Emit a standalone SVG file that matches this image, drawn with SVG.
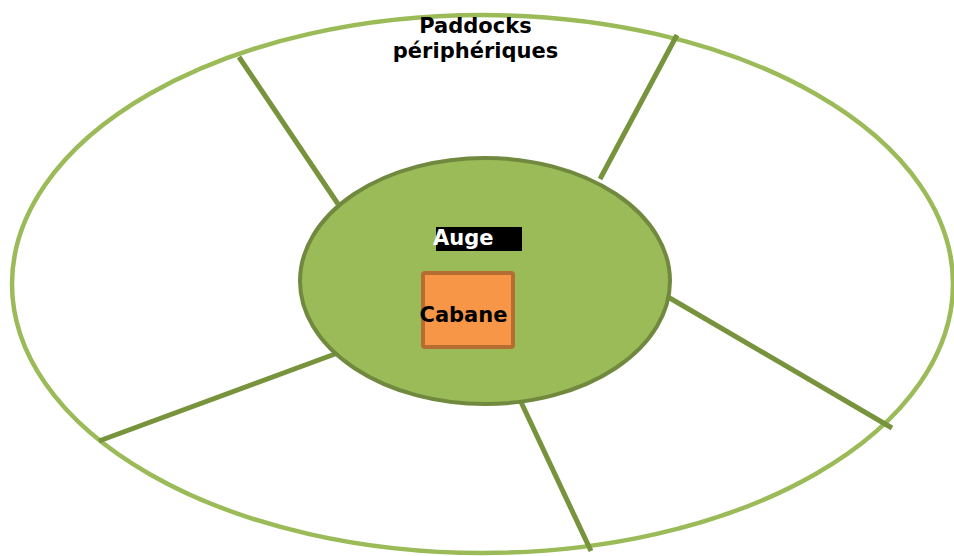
<svg xmlns="http://www.w3.org/2000/svg" width="954" height="556" viewBox="0 0 954 556">
<style>
.div{stroke:#77933C;stroke-width:5;fill:none}
.t{font-family:"DejaVu Sans",Verdana,sans-serif;font-weight:bold;font-size:21px}
</style>
<rect width="954" height="556" fill="#FFFFFF"/>
<g id="paddocks">
<ellipse cx="482.5" cy="284" rx="470.5" ry="269" fill="#FFFFFF" stroke="#9BBB59" stroke-width="4.5"/>
<text class="t" x="475.5" y="33" text-anchor="middle" fill="#000">Paddocks</text>
<text class="t" x="475.5" y="58" text-anchor="middle" fill="#000">périphériques</text>
</g>
<g id="connectors">
<line class="div" x1="239" y1="57" x2="338" y2="204"/>
<line class="div" x1="677" y1="35" x2="600" y2="179"/>
<line class="div" x1="668" y1="297" x2="892" y2="428"/>
<line class="div" x1="521" y1="402" x2="591" y2="551"/>
<line class="div" x1="335" y1="354" x2="99" y2="441"/>
</g>
<g id="auge">
<ellipse cx="485" cy="281" rx="185" ry="123" fill="#9BBB59" stroke="#71893F" stroke-width="4"/>
<rect x="436" y="227" width="86" height="24" fill="#000"/>
<text class="t" x="433" y="245" fill="#FFFFFF">Auge</text>
</g>
<g id="cabane">
<rect x="423" y="273" width="90" height="74" rx="2" fill="#F79646" stroke="#B66D31" stroke-width="4"/>
<text class="t" x="463.5" y="322" text-anchor="middle" fill="#000">Cabane</text>
</g>
</svg>
